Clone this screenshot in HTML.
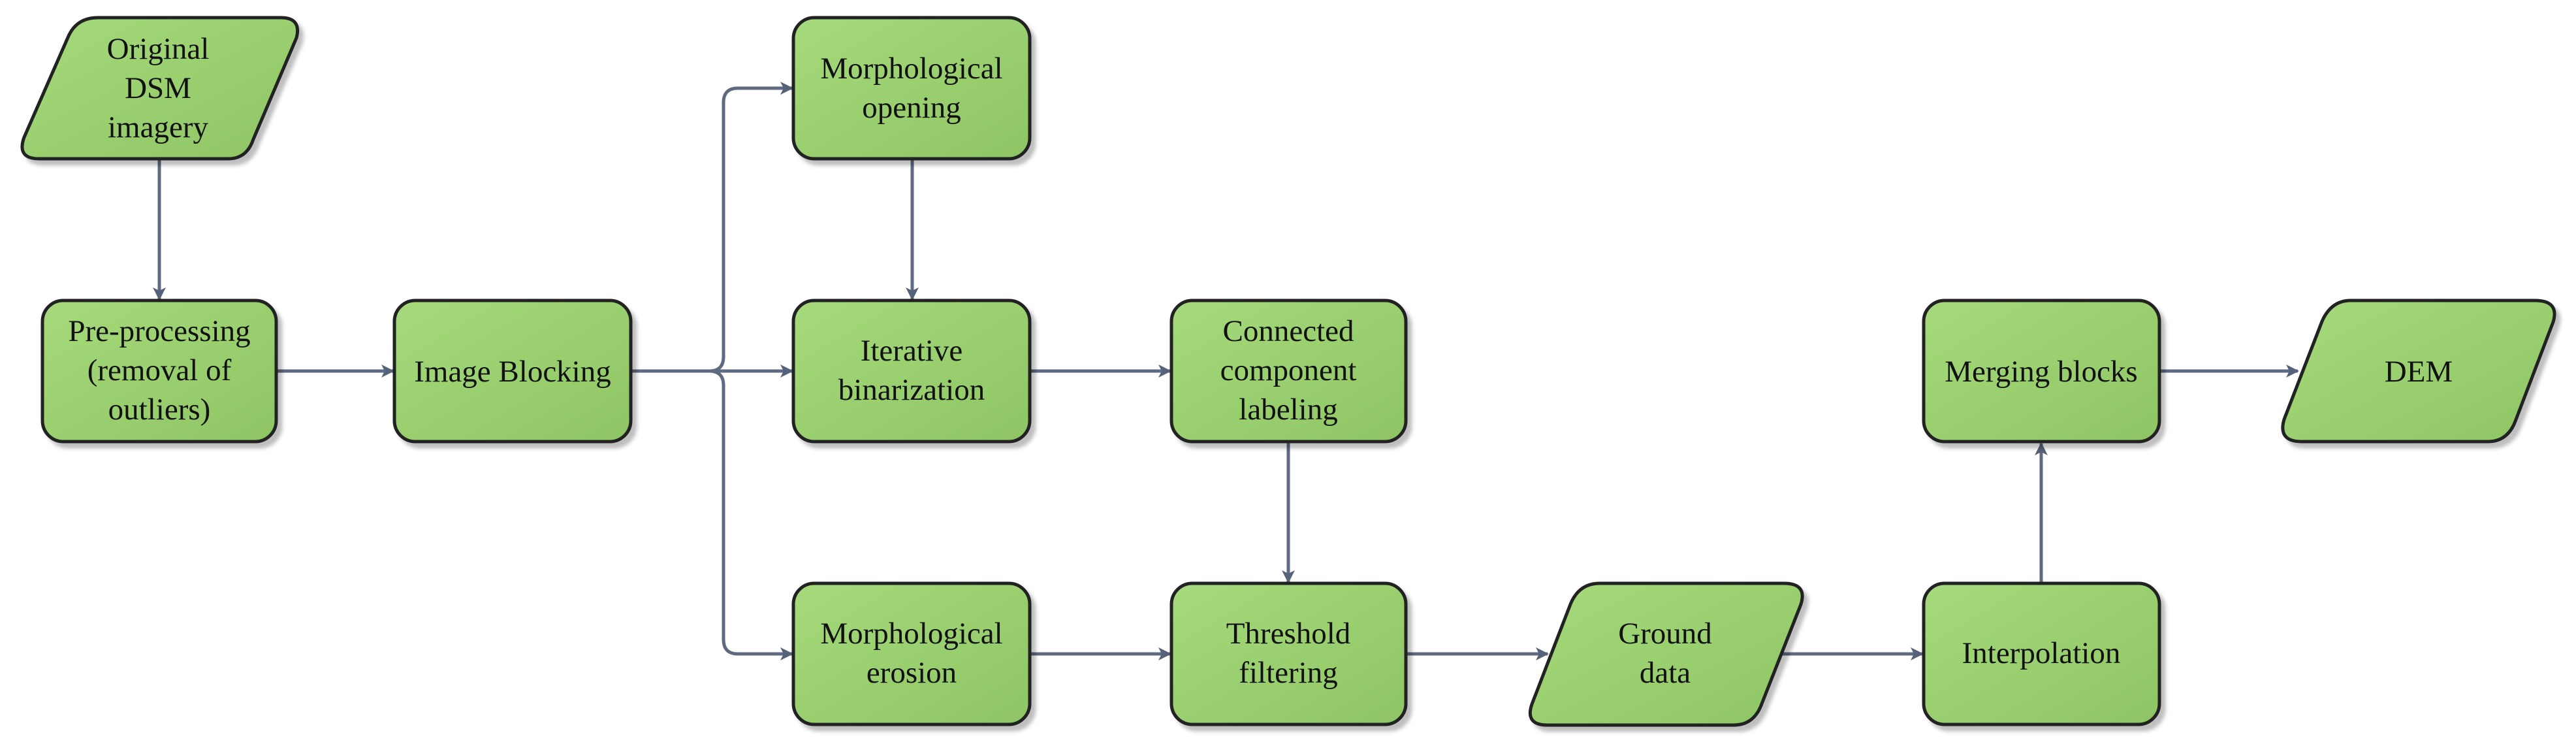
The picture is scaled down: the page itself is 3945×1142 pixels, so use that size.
<!DOCTYPE html>
<html><head><meta charset="utf-8"><style>html,body{margin:0;padding:0;background:#fff}svg{display:block}</style></head>
<body>
<svg width="3945" height="1142" viewBox="0 0 3945 1142" xmlns="http://www.w3.org/2000/svg">
<defs>
<linearGradient id="g" x1="0" y1="0" x2="1" y2="1">
<stop offset="0" stop-color="#a6da7c"/><stop offset="1" stop-color="#8ec564"/>
</linearGradient>
<marker id="a" viewBox="0 0 20 20" refX="18" refY="10" markerWidth="20" markerHeight="20" markerUnits="userSpaceOnUse" orient="auto">
<path d="M0,0 L20,10 L0,20 L5,10 Z" fill="#56627a"/>
</marker>
</defs>
<g fill="none" stroke="#5f6a80" stroke-width="5" marker-end="url(#a)">
<line x1="244" y1="243" x2="244" y2="458"/>
<line x1="423" y1="568" x2="602" y2="568"/>
<line x1="966" y1="568" x2="1213" y2="568"/>
<path d="M1086,568 Q1108,568 1108,546 L1108,157 Q1108,135 1130,135 L1213,135"/>
<path d="M1086,568 Q1108,568 1108,590 L1108,979 Q1108,1001 1130,1001 L1213,1001"/>
<line x1="1397" y1="243" x2="1397" y2="458"/>
<line x1="1577" y1="568" x2="1792" y2="568"/>
<line x1="1577" y1="1001" x2="1792" y2="1001"/>
<line x1="1973" y1="675" x2="1973" y2="891"/>
<line x1="2153" y1="1001" x2="2370" y2="1001"/>
<line x1="2727" y1="1001" x2="2944" y2="1001"/>
<line x1="3126" y1="892" x2="3126" y2="679"/>
<line x1="3307" y1="568" x2="3519" y2="568"/>
</g>
<g stroke="#222" stroke-width="5" fill="url(#g)" style="filter:drop-shadow(7px 8px 3px rgba(0,0,0,0.25))">
<path d="M150,27 L430,27 Q462,27 454,58 L388,213 Q378,243 350,243 L60,243 Q25,243 37,210 L105,55 Q118,27 150,27 Z"/>
<rect x="65" y="460" width="358" height="216" rx="32"/>
<rect x="604" y="460" width="362" height="216" rx="32"/>
<rect x="1215" y="27" width="362" height="216" rx="32"/>
<rect x="1215" y="460" width="362" height="216" rx="32"/>
<rect x="1215" y="893" width="362" height="216" rx="32"/>
<rect x="1794" y="460" width="359" height="216" rx="32"/>
<rect x="1794" y="893" width="359" height="216" rx="32"/>
<path d="M2450,893 L2732,893 Q2768,893 2758,925 L2697,1080 Q2685,1110 2655,1110 L2370,1110 Q2335,1110 2346,1078 L2405,925 Q2418,893 2450,893 Z"/>
<rect x="2946" y="893" width="361" height="216" rx="32"/>
<rect x="2946" y="460" width="361" height="216" rx="32"/>
<path d="M3620,460 L3882,460 Q3920,460 3910,493 L3852,645 Q3840,676 3810,676 L3525,676 Q3488,676 3498,642 L3556,492 Q3570,460 3600,460 Z"/>
</g>
<g font-family="Liberation Serif, serif" font-size="47" fill="#111" text-anchor="middle">
<text x="242" y="90">Original</text><text x="242" y="150">DSM</text><text x="242" y="210">imagery</text>
<text x="244" y="522">Pre-processing</text><text x="244" y="582">(removal of</text><text x="244" y="642">outliers)</text>
<text x="785" y="584">Image Blocking</text>
<text x="1396" y="120">Morphological</text><text x="1396" y="180">opening</text>
<text x="1396" y="552">Iterative</text><text x="1396" y="612">binarization</text>
<text x="1396" y="985">Morphological</text><text x="1396" y="1045">erosion</text>
<text x="1973" y="522">Connected</text><text x="1973" y="582">component</text><text x="1973" y="642">labeling</text>
<text x="1973" y="985">Threshold</text><text x="1973" y="1045">filtering</text>
<text x="2550" y="985">Ground</text><text x="2550" y="1045">data</text>
<text x="3126" y="1015">Interpolation</text>
<text x="3126" y="584">Merging blocks</text>
<text x="3704" y="584">DEM</text>
</g>
</svg>
</body></html>
